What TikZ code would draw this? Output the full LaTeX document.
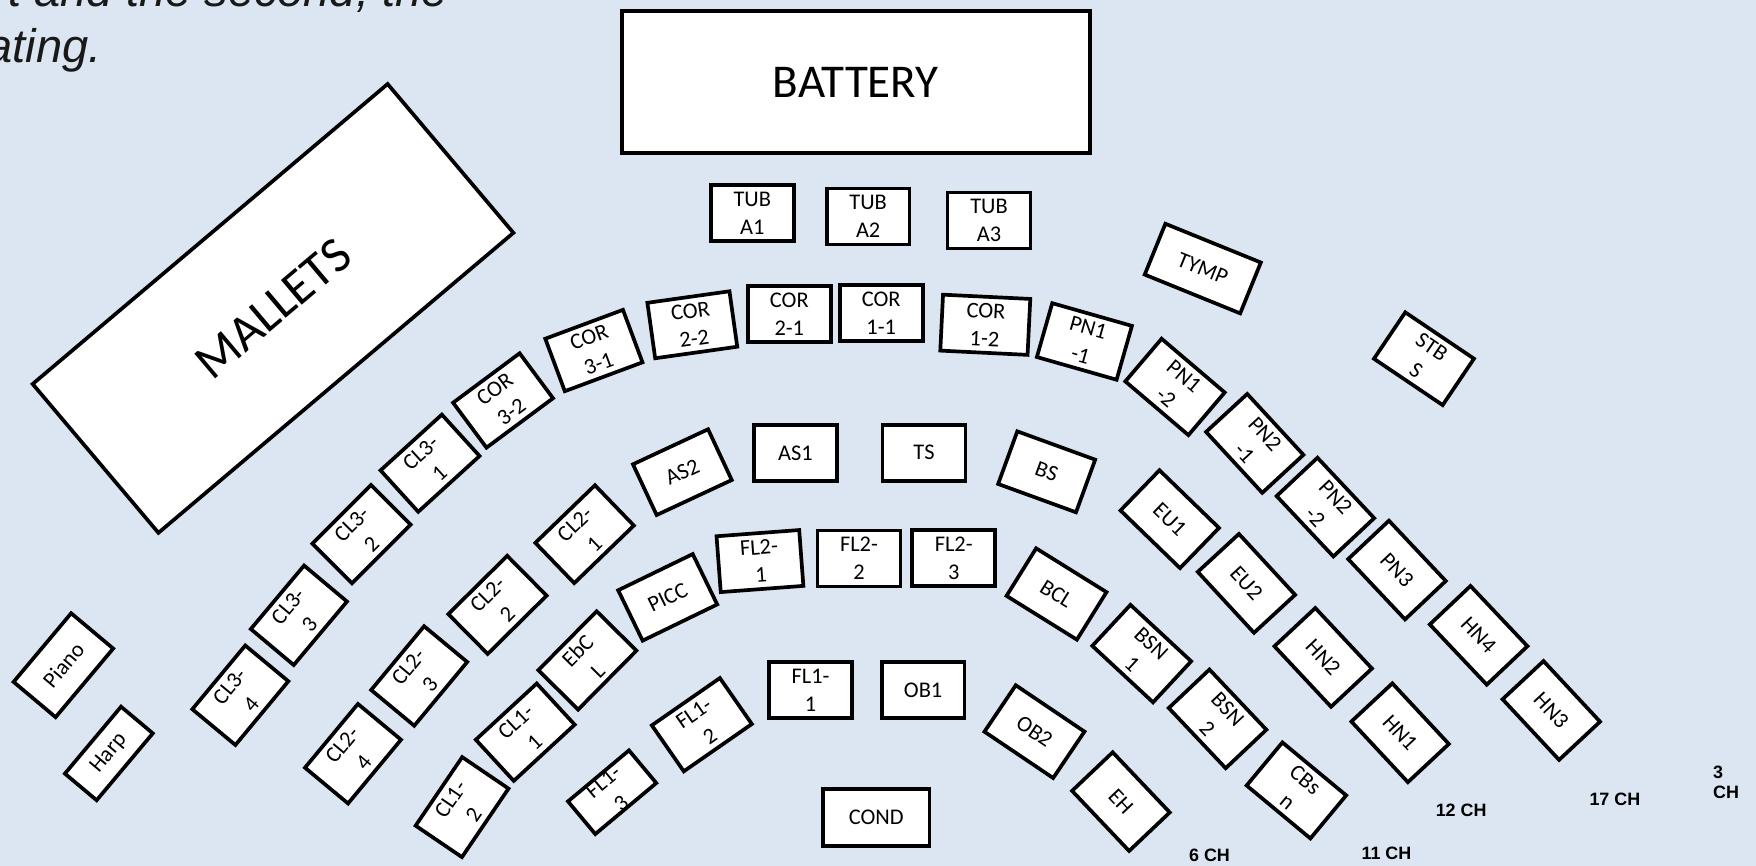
\documentclass[tikz,border=0pt]{standalone}
\usepackage{fontspec}
\setmainfont{Carlito}
\newfontfamily\seatfamily{Carlito}
\newfontfamily\labfamily{Liberation Sans}
\definecolor{bgblue}{HTML}{DCE6F2}
\begin{document}
\begin{tikzpicture}[x=1pt,y=-1pt,
  seat/.style={draw=black, fill=white, line width=3.3pt, minimum width=74pt, minimum height=50pt,
    inner sep=0pt, align=center, font=\seatfamily\fontsize{20}{25}\selectfont},
  bigseat/.style={seat, font=\seatfamily\fontsize{42}{50}\selectfont},
  chlabel/.style={inner sep=0pt, align=left, font=\labfamily\bfseries\fontsize{16}{18}\selectfont},
  toptext/.style={inner sep=0pt, font=\labfamily\itshape\fontsize{42}{50}\selectfont, text=black!90}]
\useasboundingbox (0,0) rectangle (1568,773);
\fill[bgblue] (0,0) rectangle (1568,773);
% top text
\node[toptext, anchor=base east] (txa) at (400,6) {t and the second, the};
\node[toptext, anchor=base east] (txb) at (91,56) {ating.};
% large blocks
\node[bigseat, minimum width=418pt, minimum height=127pt] (battery) at (764.2,73.4) {BATTERY};
\node[bigseat, minimum width=415pt, minimum height=174pt, rotate=40.2, font=\seatfamily\fontsize{45}{50}\selectfont] (mallets) at (243.8,275.4) {MALLETS};
% tubas
\node[seat] (tuba1) at (671.7,190.4) {TUB\\A1};
\node[seat] (tuba2) at (775.2,193.2) {TUB\\A2};
\node[seat] (tuba3) at (883.1,197) {TUB\\A3};
% outer arc
\node[seat] (cor21) at (704.8,280.4) {COR\\2-1};
\node[seat] (cor11) at (786.9,279.5) {COR\\1-1};
\node[seat, rotate=8] (cor22) at (618.2,290) {COR\\2-2};
\node[seat, rotate=-2.8, minimum width=78pt] (cor12) at (879.8,290) {COR\\1-2};
\node[seat, rotate=20.4] (cor31) at (530.3,313) {COR\\3-1};
\node[seat, rotate=36.6] (cor32) at (449.2,357.6) {COR\\3-2};
\node[seat, rotate=42.3] (cl31) at (384,413.6) {CL3-\\1};
\node[seat, rotate=45] (cl32) at (322.8,476.9) {CL3-\\2};
\node[seat, rotate=50] (cl33) at (266.9,549.4) {CL3-\\3};
\node[seat, rotate=50.3] (cl34) at (214.6,620.8) {CL3-\\4};
\node[seat, rotate=-15.9] (pn11) at (968.3,304.9) {PN1\\-1};
\node[seat, rotate=-40.4] (pn12) at (1049.2,345.5) {PN1\\-2};
\node[seat, rotate=-47.3] (pn21) at (1120.4,395.9) {PN2\\-1};
\node[seat, rotate=-46.8] (pn22) at (1183.5,452.8) {PN2\\-2};
\node[seat, rotate=-46.7] (pn3) at (1247.4,509) {PN3};
\node[seat, rotate=-46.6] (hn4) at (1320.3,567.3) {HN4};
\node[seat, rotate=-47] (hn3) at (1385.2,634.4) {HN3};
% percussion right
\node[seat, rotate=-22.1, minimum width=92pt, minimum height=49pt] (tymp) at (1074,239.8) {TYMP};
\node[seat, rotate=-34] (stbs) at (1271.5,320.3) {STB\\S};
% middle arc
\node[seat, rotate=25] (as2) at (609.3,421.6) {AS2};
\node[seat] (as1) at (710.2,404.8) {AS1};
\node[seat] (ts) at (825.1,404.2) {TS};
\node[seat, rotate=-20] (bs) at (934.6,421.3) {BS};
\node[seat, rotate=44] (cl21) at (522,477) {CL2-\\1};
\node[seat, rotate=44.7] (cl22) at (444.2,540.1) {CL2-\\2};
\node[seat, rotate=50.3] (cl23) at (374.3,603.6) {CL2-\\3};
\node[seat, rotate=50.3] (cl24) at (315.2,673) {CL2-\\4};
\node[seat, rotate=-44.1] (eu1) at (1044.5,463.6) {EU1};
\node[seat, rotate=-47.3] (eu2) at (1113,520.9) {EU2};
\node[seat, rotate=-46.9] (hn2) at (1181.5,587) {HN2};
\node[seat, rotate=-47] (hn1) at (1250.2,654.3) {HN1};
% inner arc
\node[seat, rotate=25.9] (picc) at (596.2,533.4) {PICC};
\node[seat, rotate=4.3] (fl21) at (678.6,501) {FL2-\\1};
\node[seat] (fl22) at (767,498.8) {FL2-\\2};
\node[seat] (fl23) at (851.6,498.2) {FL2-\\3};
\node[seat, rotate=-31.9] (bcl) at (943.4,530.4) {BCL};
\node[seat, rotate=45.3] (ebcl) at (524.5,589.7) {EbC\\L};
\node[seat, rotate=42.7] (cl11) at (469,653.8) {CL1-\\1};
\node[seat, rotate=55.8] (cl12) at (412.6,720.7) {CL1-\\2};
\node[seat, rotate=-42.9] (bsn1) at (1019.5,583.6) {BSN\\1};
\node[seat, rotate=-46.6] (bsn2) at (1087.2,641.9) {BSN\\2};
\node[seat, rotate=-39.7] (cbsn) at (1157.6,705.8) {CBs\\n};
% innermost
\node[seat] (fl11) at (723.8,616.1) {FL1-\\1};
\node[seat] (ob1) at (824.3,616.1) {OB1};
\node[seat, rotate=34.8] (fl12) at (626.7,647.1) {FL1-\\2};
\node[seat, rotate=39.9, minimum width=71pt, minimum height=34pt] (fl13) at (546.6,707.4) {FL1-\\3};
\node[seat, rotate=-34] (ob2) at (923.7,653.3) {OB2};
\node[seat, rotate=-46.5] (eh) at (1000.9,715.8) {EH};
\node[seat, minimum width=95pt, minimum height=51pt] (cond) at (782.4,730.2) {COND};
% piano and harp
\node[seat, rotate=50, minimum width=80pt, minimum height=49pt] (piano) at (56.6,594) {Piano};
\node[seat, rotate=50, minimum width=78pt, minimum height=37pt] (harp) at (97.2,672.8) {Harp};
% chair counts
\node[chlabel] (ch6) at (1080,763.4) {6 CH};
\node[chlabel] (ch11) at (1238,762.2) {11 CH};
\node[chlabel] (ch12) at (1304.7,723.2) {12 CH};
\node[chlabel] (ch17) at (1442,713.7) {17 CH};
\node[chlabel, anchor=west] (ch3) at (1529.5,698.5) {3\\CH};
\end{tikzpicture}
\end{document}
